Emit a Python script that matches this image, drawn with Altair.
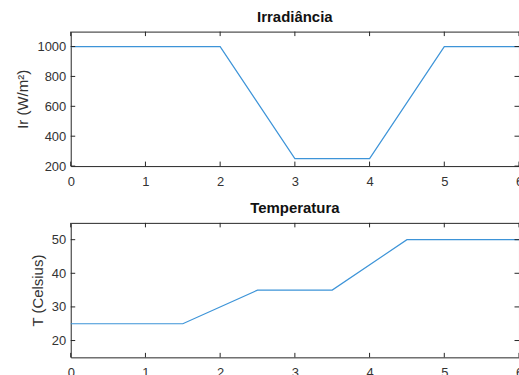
import altair as alt
import pandas as pd

# data
time_ir = [0, 2, 3, 4, 5, 6]
irr = [1000, 1000, 250, 250, 1000, 1000]
time_t = [0, 1.5, 2.5, 3.5, 4.5, 6]
temp = [25, 25, 35, 35, 50, 50]
x_ticks = [0, 1, 2, 3, 4, 5, 6]
ir_ticks = [200, 400, 600, 800, 1000]
t_ticks = [20, 30, 40, 50]

W = 450
H = 135
TL = 4.5
LINE_COLOR = "#3d94d8"
AXIS_COLOR = "#262626"
FONT = "Liberation Sans"


def panel(x_vals, y_vals, ydomain, yticks, ytitle, title):
    df = pd.DataFrame({"t": x_vals, "v": y_vals})
    xs = alt.Scale(domain=[0, 6], nice=False, zero=False)
    ys = alt.Scale(domain=ydomain, nice=False, zero=False)
    xaxis = alt.Axis(values=x_ticks, title=None, format="d", domain=False,
                     ticks=False, grid=False, labelPadding=9,
                     labelFlush=False, labelOverlap=False)
    yaxis = alt.Axis(values=yticks, title=ytitle, format="d", domain=False,
                     ticks=False, grid=False, labelPadding=5, titlePadding=6)
    line = alt.Chart(df).mark_line(color=LINE_COLOR, strokeWidth=1.2).encode(
        x=alt.X("t:Q", scale=xs, axis=xaxis),
        y=alt.Y("v:Q", scale=ys, axis=yaxis),
    )
    xt = pd.DataFrame({"t": x_ticks})
    yt = pd.DataFrame({"v": yticks})
    rule = dict(color=AXIS_COLOR, strokeWidth=1)
    bt = alt.Chart(xt).mark_rule(**rule).encode(
        x=alt.X("t:Q", scale=xs, axis=xaxis), y=alt.value(H), y2=alt.value(H - TL))
    tt = alt.Chart(xt).mark_rule(**rule).encode(
        x=alt.X("t:Q", scale=xs, axis=xaxis), y=alt.value(0), y2=alt.value(TL))
    lt = alt.Chart(yt).mark_rule(**rule).encode(
        y=alt.Y("v:Q", scale=ys, axis=yaxis), x=alt.value(0), x2=alt.value(TL))
    rt = alt.Chart(yt).mark_rule(**rule).encode(
        y=alt.Y("v:Q", scale=ys, axis=yaxis), x=alt.value(W), x2=alt.value(W - TL))
    return alt.layer(line, bt, tt, lt, rt).properties(
        width=W, height=H,
        title=alt.TitleParams(title, font=FONT, fontSize=15, fontWeight="bold",
                              color="#111111", offset=6, anchor="middle"),
    )


top = panel(time_ir, irr, [200, 1100], ir_ticks, "Ir (W/m²)", "Irradiância")
bottom = panel(time_t, temp, [15, 55], t_ticks, "T (Celsius)", "Temperatura")

chart = alt.vconcat(top, bottom, spacing=12).properties(
    padding={"left": 15, "top": 9, "right": -5, "bottom": -5},
    background="white",
).configure_view(stroke=AXIS_COLOR, strokeWidth=1).configure_axis(
    labelFont=FONT, labelFontSize=13, labelColor="#333333",
    titleFont=FONT, titleFontSize=15, titleColor="#333333", titleFontWeight="normal",
)

chart.save("out.html", embed_options={"renderer": "svg", "actions": False})
